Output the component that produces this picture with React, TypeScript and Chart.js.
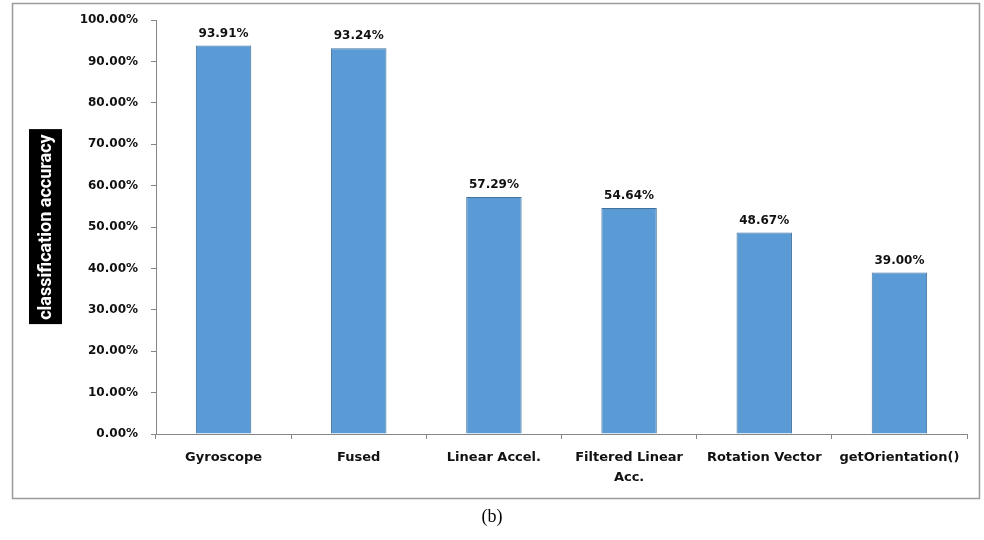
import { useEffect, useRef } from 'react';
import { Chart, registerables } from 'chart.js';

Chart.register(...registerables);

const categories: (string | string[])[] = [
  'Gyroscope',
  'Fused',
  'Linear Accel.',
  ['Filtered Linear', 'Acc.'],
  'Rotation Vector',
  'getOrientation()',
];
const accuracy = [93.91, 93.24, 57.29, 54.64, 48.67, 39.0];
const yAxisTitle = 'classification accuracy';
const caption = '(b)';

const FONT = "'DejaVu Sans', Verdana, sans-serif";

const decorPlugin = {
  id: 'decor',
  beforeDraw(chart: any) {
    const ctx = chart.ctx;
    ctx.save();
    ctx.fillStyle = '#ffffff';
    ctx.fillRect(0, 0, chart.width, chart.height);
    ctx.strokeStyle = '#9a9a9a';
    ctx.lineWidth = 1.5;
    ctx.strokeRect(12.5, 3.5, 967, 495);
    ctx.restore();
  },
  afterDraw(chart: any) {
    const ctx = chart.ctx;
    const area = chart.chartArea;
    ctx.save();
    // value labels
    const meta = chart.getDatasetMeta(0);
    ctx.fillStyle = '#111';
    ctx.font = `bold 12px ${FONT}`;
    ctx.textAlign = 'center';
    ctx.textBaseline = 'bottom';
    meta.data.forEach((el: any, i: number) => {
      ctx.fillText(accuracy[i].toFixed(2) + '%', el.x, el.y - 6);
    });
    // y axis title box
    const cy = (area.top + area.bottom) / 2;
    ctx.fillStyle = '#000';
    ctx.fillRect(29, cy - 98, 33, 195);
    ctx.translate(45.5, cy);
    ctx.rotate(-Math.PI / 2);
    ctx.fillStyle = '#fff';
    ctx.font = `bold 18px Roboto, sans-serif`;
    ctx.textAlign = 'center';
    ctx.textBaseline = 'middle';
    ctx.fillText(yAxisTitle, 0, 1);
    ctx.restore();
    // caption
    ctx.save();
    ctx.fillStyle = '#000';
    ctx.font = `18px 'Liberation Serif', serif`;
    ctx.textAlign = 'center';
    ctx.textBaseline = 'middle';
    ctx.fillText(caption, 492, 517);
    ctx.restore();
  },
};

export default function App() {
  const ref = useRef<HTMLCanvasElement | null>(null);
  useEffect(() => {
    document.body.style.margin = '0';
    if (!ref.current) return;
    const chart = new Chart(ref.current, {
      type: 'bar',
      data: {
        labels: categories as any,
        datasets: [
          {
            data: accuracy,
            backgroundColor: '#5b9bd5',
            borderColor: '#41719c',
            borderWidth: 1,
            barPercentage: 0.41,
            categoryPercentage: 1,
          },
        ],
      },
      options: {
        responsive: false,
        animation: false,
        layout: { padding: { left: 0, top: 19, right: 17, bottom: 0 } },
        plugins: { legend: { display: false }, tooltip: { enabled: false } },
        scales: {
          x: {
            grid: {
              drawOnChartArea: false,
              drawTicks: true,
              tickLength: 5,
              color: '#868686',
              offset: true,
            },
            border: { color: '#868686', width: 1 },
            ticks: {
              color: '#111',
              font: { family: FONT, size: 13, weight: 'bold', lineHeight: 1.5 },
              maxRotation: 0,
              minRotation: 0,
              autoSkip: false,
              padding: 9,
            },
            afterFit(scale: any) {
              scale.height = 106;
            },
          },
          y: {
            min: 0,
            max: 100,
            ticks: {
              stepSize: 10,
              color: '#111',
              font: { family: FONT, size: 12, weight: 'bold' },
              padding: 13,
              callback: (v: any) => Number(v).toFixed(2) + '%',
            },
            grid: {
              drawOnChartArea: false,
              drawTicks: true,
              tickLength: 5,
              color: '#868686',
            },
            border: { color: '#868686', width: 1 },
            afterFit(scale: any) {
              scale.width = 156;
            },
          },
        },
      },
      plugins: [decorPlugin],
    });
    return () => chart.destroy();
  }, []);
  return <canvas ref={ref} width={984} height={540} style={{ display: 'block' }} />;
}
